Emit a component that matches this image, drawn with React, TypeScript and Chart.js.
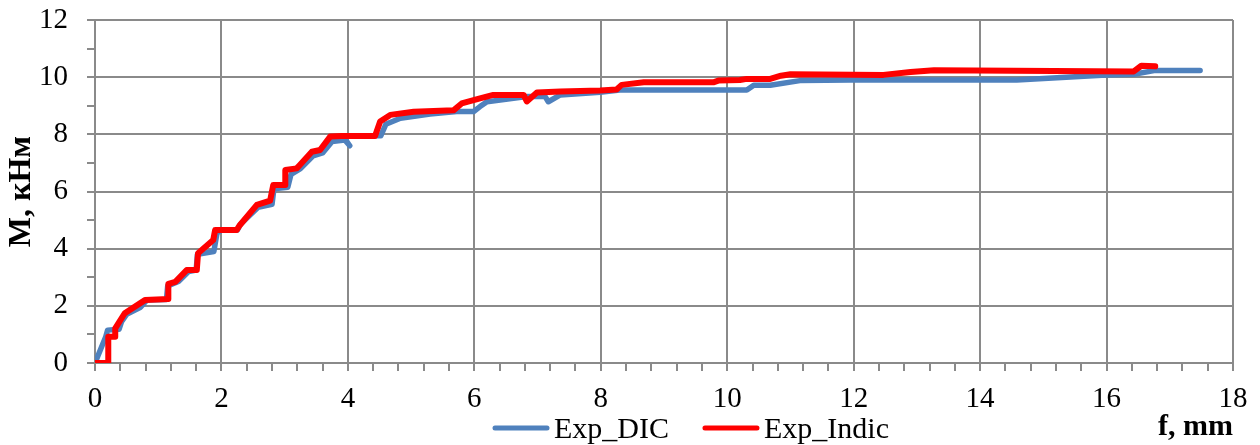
import React, { useEffect, useRef } from 'react';
import { Chart, registerables } from 'chart.js';

Chart.register(...registerables);

// ---- Data ----
const seriesNames = ['Exp_DIC', 'Exp_Indic'];
const seriesColors = ['#4F81BD', '#FF0000'];

const dicX = [0, 0.17, 0.2, 0.38, 0.42, 0.5, 0.72, 0.82, 1.13, 1.15, 1.32, 1.48, 1.6, 1.62, 1.88, 1.93, 2.0, 2.25, 2.3, 2.58, 2.8, 2.83, 3.05, 3.1, 3.25, 3.45, 3.6, 3.75, 3.95, 4.03, 3.92, 4.52, 4.6, 4.83, 5.3, 5.72, 5.99, 6.09, 6.2, 6.83, 7.12, 7.17, 7.36, 7.99, 8.3, 10.31, 10.42, 10.68, 11.15, 11.95, 14.58, 16.0, 16.43, 16.75, 17.48];
const dicY = [0, 0.92, 1.15, 1.18, 1.45, 1.7, 1.95, 2.2, 2.22, 2.7, 2.85, 3.2, 3.25, 3.8, 3.9, 4.55, 4.65, 4.65, 4.85, 5.45, 5.55, 6.1, 6.15, 6.6, 6.8, 7.25, 7.35, 7.75, 7.8, 7.6, 7.95, 7.95, 8.35, 8.56, 8.71, 8.8, 8.8, 8.97, 9.14, 9.32, 9.32, 9.14, 9.38, 9.47, 9.55, 9.55, 9.72, 9.72, 9.88, 9.9, 9.9, 10.08, 10.1, 10.23, 10.23];

const indicX = [0, 0.21, 0.21, 0.32, 0.32, 0.47, 0.79, 1.16, 1.16, 1.27, 1.45, 1.61, 1.63, 1.87, 1.9, 2.24, 2.29, 2.56, 2.77, 2.82, 3.01, 3.01, 3.19, 3.24, 3.43, 3.56, 3.72, 3.9, 4.43, 4.51, 4.67, 5.04, 5.67, 5.8, 6.09, 6.3, 6.78, 6.83, 6.99, 7.36, 7.99, 8.25, 8.33, 8.68, 9.78, 9.86, 10.2, 10.31, 10.68, 10.85, 11.0, 12.47, 12.9, 13.27, 16.43, 16.55, 16.77];
const indicY = [0, 0, 0.92, 0.92, 1.21, 1.74, 2.2, 2.24, 2.77, 2.84, 3.25, 3.25, 3.84, 4.3, 4.65, 4.65, 4.82, 5.53, 5.68, 6.23, 6.23, 6.75, 6.81, 6.93, 7.39, 7.45, 7.92, 7.94, 7.94, 8.45, 8.68, 8.79, 8.84, 9.08, 9.26, 9.38, 9.38, 9.15, 9.46, 9.5, 9.53, 9.57, 9.73, 9.82, 9.82, 9.88, 9.9, 9.94, 9.94, 10.05, 10.1, 10.08, 10.18, 10.24, 10.2, 10.4, 10.38];

const xTickLabels = ['0', '2', '4', '6', '8', '10', '12', '14', '16', '18'];
const yTickLabels = ['0', '2', '4', '6', '8', '10', '12'];
const xTitle = 'f, mm';
const yTitle = 'M, кНм';

const X_MIN = 0;
const X_MAX = 18;
const X_MINOR_STEP = 0.4;
const Y_MIN = 0;
const Y_MAX = 12;

const FONT = "'Liberation Serif', 'Times New Roman', serif";
const GRID = '#8a8a8a';

const isEven = (v: number) => {
  const r = Math.round(v);
  return Math.abs(v - r) < 1e-6 && r % 2 === 0;
};

const toPoints = (xs: number[], ys: number[]) => xs.map((x, i) => ({ x, y: ys[i] }));

const bottomLegend = {
  id: 'bottomLegend',
  afterDraw(chart: any) {
    const ctx = chart.ctx as CanvasRenderingContext2D;
    ctx.save();
    ctx.font = `30px ${FONT}`;
    ctx.textBaseline = 'alphabetic';
    ctx.textAlign = 'left';
    let x = 493;
    const lineY = 428;
    const baseY = 438;
    chart.data.datasets.forEach((ds: any) => {
      ctx.strokeStyle = ds.borderColor;
      ctx.lineWidth = 5;
      ctx.lineCap = 'round';
      ctx.beginPath();
      ctx.moveTo(x + 2, lineY);
      ctx.lineTo(x + 54, lineY);
      ctx.stroke();
      ctx.fillStyle = '#000';
      const tx = x + 61;
      ctx.fillText(ds.label, tx, baseY);
      x = tx + ctx.measureText(ds.label).width + 34;
    });
    ctx.restore();
  },
};

export default function App() {
  const canvasRef = useRef<HTMLCanvasElement | null>(null);

  useEffect(() => {
    document.body.style.margin = '0';
    const canvas = canvasRef.current;
    if (!canvas) return;
    const chart = new Chart(canvas, {
      type: 'line',
      data: {
        datasets: [
          {
            label: seriesNames[0],
            data: toPoints(dicX, dicY),
            borderColor: seriesColors[0],
            backgroundColor: seriesColors[0],
            borderWidth: 5.5,
            pointRadius: 0,
            tension: 0,
            borderJoinStyle: 'round',
            borderCapStyle: 'round',
            order: 1,
          },
          {
            label: seriesNames[1],
            data: toPoints(indicX, indicY),
            borderColor: seriesColors[1],
            backgroundColor: seriesColors[1],
            borderWidth: 6,
            pointRadius: 0,
            tension: 0,
            borderJoinStyle: 'round',
            borderCapStyle: 'round',
            order: 0,
          },
        ],
      },
      options: {
        animation: false,
        responsive: true,
        maintainAspectRatio: false,
        devicePixelRatio: 1,
        layout: { padding: { left: 0, right: 27, top: 20, bottom: 0 } },
        plugins: {
          legend: { display: false },
          tooltip: { enabled: false },
        },
        scales: {
          x: {
            type: 'linear',
            min: X_MIN,
            max: X_MAX,
            afterBuildTicks: (scale: any) => {
              const n = Math.round((X_MAX - X_MIN) / X_MINOR_STEP);
              const ticks = [];
              for (let i = 0; i <= n; i++) {
                ticks.push({ value: Math.round((X_MIN + i * X_MINOR_STEP) * 1000) / 1000 });
              }
              scale.ticks = ticks;
            },
            afterFit: (scale: any) => {
              scale.height = 82;
              scale.paddingLeft = 0;
              scale.paddingRight = 0;
            },
            ticks: {
              autoSkip: false,
              maxRotation: 0,
              minRotation: 0,
              padding: 11,
              color: '#000',
              font: { family: FONT, size: 29 },
              callback: (v: any) => (isEven(Number(v)) ? xTickLabels[Math.round(Number(v)) / 2] : ''),
            },
            grid: {
              color: (c: any) => (c.tick && isEven(c.tick.value) ? GRID : 'rgba(0,0,0,0)'),
              tickColor: GRID,
              lineWidth: 2,
              tickLength: 8,
              drawTicks: true,
            },
            border: { display: true, color: GRID, width: 2 },
            title: {
              display: true,
              text: xTitle,
              align: 'end',
              color: '#000',
              font: { family: FONT, size: 30, weight: 'bold' },
              padding: { top: 0, bottom: 0 },
            },
          },
          y: {
            type: 'linear',
            min: Y_MIN,
            max: Y_MAX,
            afterFit: (scale: any) => {
              scale.width = 95;
              scale.paddingTop = 0;
              scale.paddingBottom = 0;
            },
            ticks: {
              stepSize: 1,
              autoSkip: false,
              padding: 19,
              color: '#000',
              font: { family: FONT, size: 29 },
              callback: (v: any) => (isEven(Number(v)) ? yTickLabels[Math.round(Number(v)) / 2] : ''),
            },
            grid: {
              color: (c: any) => (c.tick && isEven(c.tick.value) ? GRID : 'rgba(0,0,0,0)'),
              tickColor: GRID,
              lineWidth: 2,
              tickLength: 8,
              drawTicks: true,
            },
            border: { display: true, color: GRID, width: 2 },
            title: {
              display: true,
              text: yTitle,
              color: '#000',
              font: { family: FONT, size: 32, weight: 'bold' },
              padding: { top: 3, bottom: 0 },
            },
          },
        },
      },
      plugins: [bottomLegend],
    });
    return () => chart.destroy();
  }, []);

  return (
    <div style={{ width: 1260, height: 445, position: 'relative' }}>
      <canvas ref={canvasRef} />
    </div>
  );
}
